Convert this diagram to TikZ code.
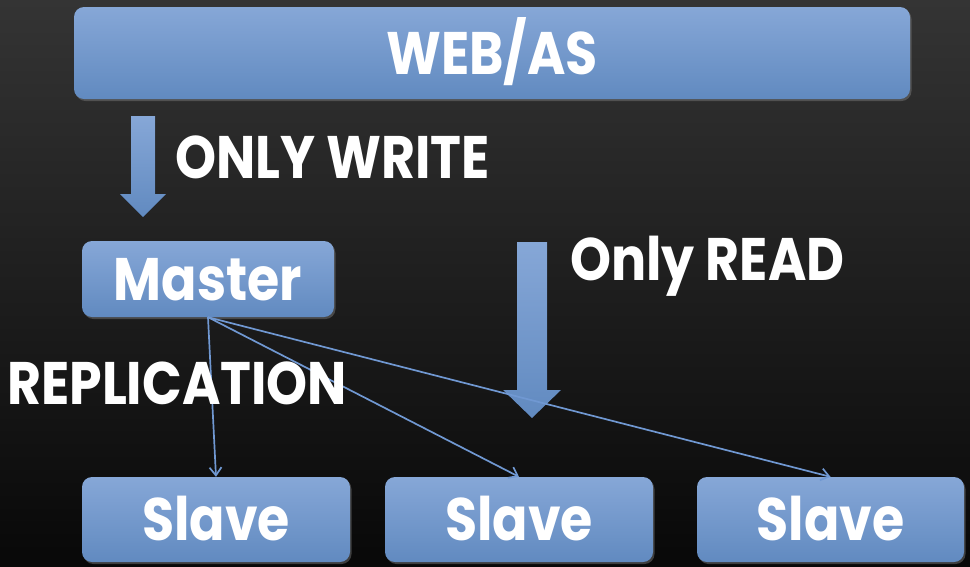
\documentclass[tikz,border=0pt]{standalone}
\usepackage{fontspec}
\setmainfont{Poppins}[FakeStretch=0.87]
\usetikzlibrary{arrows.meta,shadows}

\definecolor{bgtop}{RGB}{52,52,52}
\definecolor{bgbot}{RGB}{8,8,8}
\definecolor{boxtop}{RGB}{134,167,215}
\definecolor{boxbot}{RGB}{97,138,192}
\definecolor{wirecol}{RGB}{112,152,210}

\begin{document}
\begin{tikzpicture}[x=1pt,y=-1pt,
  bigfont/.style={font=\fontsize{60}{60}\selectfont\bfseries},
  box/.style={bigfont, rounded corners=10pt, top color=boxtop, bottom color=boxbot,
    inner sep=0pt, text=white, text height=42pt, text depth=0pt,
    drop shadow={opacity=0.45, shadow xshift=1.5pt, shadow yshift=-2pt}},
  caption/.style={bigfont, text=white, inner sep=0pt, text height=42pt, text depth=0pt, anchor=west},
  wire/.style={draw=wirecol, line width=1.7pt, -{Straight Barb[length=8pt,width=12pt]}},
  bigarrow/.style={top color=boxtop, bottom color=boxbot}
]
  % background
  \fill[top color=bgtop, bottom color=bgbot] (0,0) rectangle (970,566);
  \useasboundingbox (0,0) rectangle (970,566);

  % boxes
  \node[box, minimum width=836pt, minimum height=92pt] (web) at (492,53) {WEB/AS};
  \node[box, minimum width=252pt, minimum height=76pt] (master) at (208,279) {Master};
  \node[box, minimum width=268pt, minimum height=85pt] (s1) at (216,519.5) {Slave};
  \node[box, minimum width=268pt, minimum height=85pt] (s2) at (519,519.5) {Slave};
  \node[box, minimum width=267pt, minimum height=85pt] (s3) at (830.5,519.5) {Slave};

  % block arrows
  \fill[bigarrow] (131,116) -- (155,116) -- (155,194) -- (166,194) -- (143,217)
    -- (120,194) -- (131,194) -- cycle;
  \fill[bigarrow] (517,242) -- (547,242) -- (547,390) -- (561,390) -- (532,418)
    -- (503,390) -- (517,390) -- cycle;

  % replication links
  \draw[wire] (master.south) -- (s1.north);
  \draw[wire] (master.south) -- (s2.north);
  \draw[wire] (master.south) -- (s3.north);

  % captions
  \node[caption] (write) at (175,157.5) {ONLY WRITE};
  \node[caption] (read) at (570,259) {Only READ};
  \node[caption] (repl) at (7,383.5) {REPLICATION};
\end{tikzpicture}
\end{document}
